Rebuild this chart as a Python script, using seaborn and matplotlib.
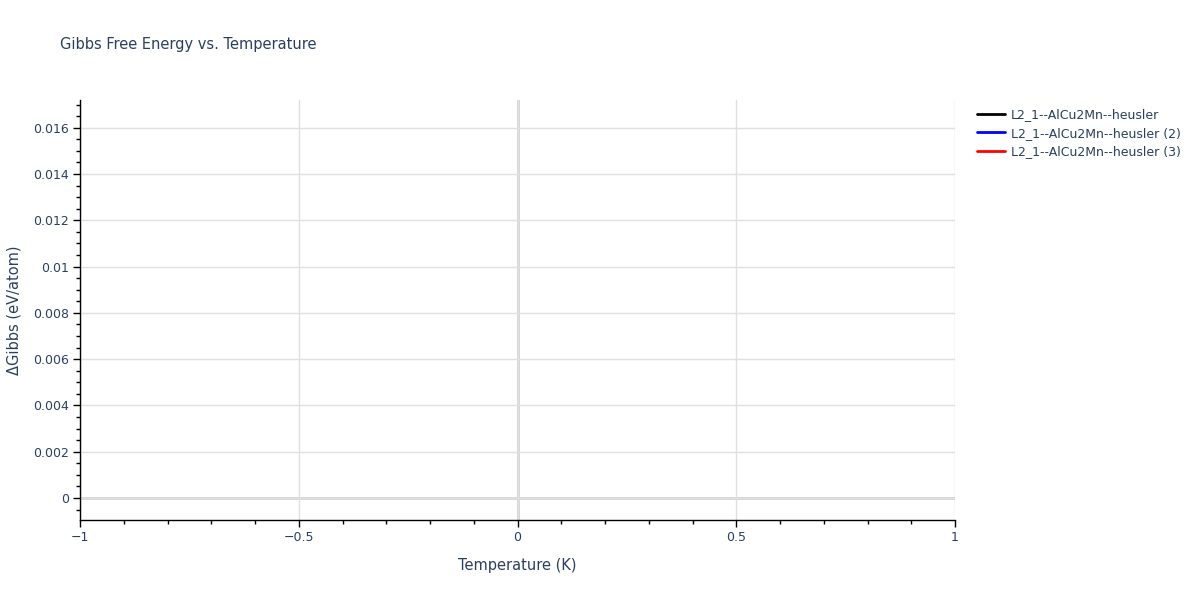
import matplotlib
matplotlib.use("Agg")
import matplotlib.pyplot as plt
from matplotlib.ticker import MultipleLocator, FuncFormatter
import pandas as pd
import seaborn as sns

sns.set_theme(style="white")
plt.rcParams['font.family'] = ['DejaVu Sans']

# Data: each series has only a single point at the origin, so no line is visible
series_names = ["L2_1--AlCu2Mn--heusler",
                "L2_1--AlCu2Mn--heusler (2)",
                "L2_1--AlCu2Mn--heusler (3)"]
series_colors = ["black", "blue", "red"]
temperature = [0.0]
gibbs_1 = [0.0]
gibbs_2 = [0.0]
gibbs_3 = [0.0]

df = pd.DataFrame({
    "Temperature": temperature * 3,
    "Gibbs": gibbs_1 + gibbs_2 + gibbs_3,
    "series": [series_names[0]] * len(gibbs_1)
              + [series_names[1]] * len(gibbs_2)
              + [series_names[2]] * len(gibbs_3),
})

text_color = "#2a3f5f"
grid_color = "#e0e0e0"

fig = plt.figure(figsize=(12, 6), dpi=100)
ax = fig.add_axes([80 / 1200, 1 - 520 / 600, 875 / 1200, 420 / 600])

sns.lineplot(data=df, x="Temperature", y="Gibbs", hue="series",
             palette=dict(zip(series_names, series_colors)), ax=ax, linewidth=2)

ax.set_xlim(-1, 1)
ax.set_ylim(-0.00095, 0.0172)

ax.xaxis.set_major_locator(MultipleLocator(0.5))
ax.xaxis.set_minor_locator(MultipleLocator(0.1))
ax.yaxis.set_major_locator(MultipleLocator(0.002))
ax.yaxis.set_minor_locator(MultipleLocator(0.0005))

def fmt(v, pos):
    s = f"{v:.4f}".rstrip("0").rstrip(".")
    if s in ("-0", ""):
        s = "0"
    return s.replace("-", "\u2212")

ax.xaxis.set_major_formatter(FuncFormatter(fmt))
ax.yaxis.set_major_formatter(FuncFormatter(fmt))

ax.grid(True, which="major", color=grid_color, linewidth=1)
ax.axhline(0, color="#d0d0d0", linewidth=2, zorder=0.5)
ax.axvline(0, color="#d0d0d0", linewidth=2, zorder=0.5)
ax.set_axisbelow(True)

for side in ("top", "right"):
    ax.spines[side].set_visible(False)
for side in ("left", "bottom"):
    ax.spines[side].set_color("black")
    ax.spines[side].set_linewidth(1)

ax.tick_params(which="major", direction="out", length=5, width=1, color="black",
               labelsize=9, labelcolor=text_color, left=True, bottom=True, pad=3)
ax.tick_params(which="minor", direction="out", length=3, width=1, color="black",
               left=True, bottom=True)

ax.set_xlabel("Temperature (K)", fontsize=10.5, color=text_color, labelpad=10)
ax.set_ylabel("\u0394Gibbs (eV/atom)", fontsize=10.5, color=text_color, labelpad=8)

fig.text(60 / 1200, 1 - 45 / 600, "Gibbs Free Energy vs. Temperature",
         fontsize=10.5, color=text_color, va="center", ha="left")

handles, labels = ax.get_legend_handles_labels()
ax.legend(handles, labels, loc="upper left", bbox_to_anchor=(972 / 1200, 1 - 103 / 600),
          bbox_transform=fig.transFigure, frameon=False, fontsize=9,
          labelcolor=text_color, handlelength=2.2, handletextpad=0.5,
          borderaxespad=0, labelspacing=0.45)

fig.savefig("out.png", dpi=100)
